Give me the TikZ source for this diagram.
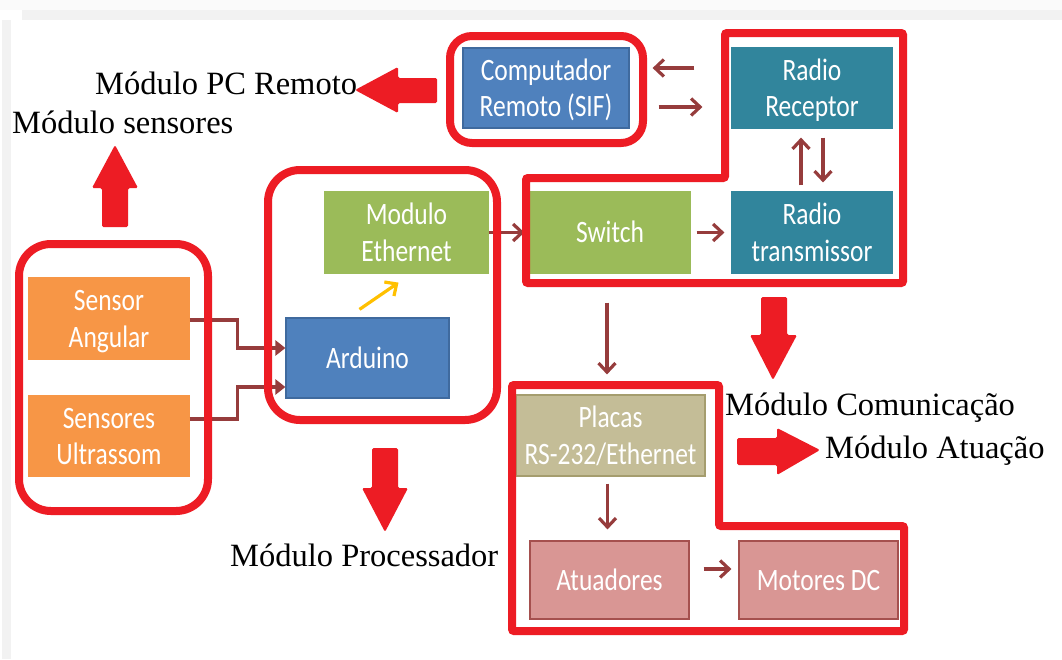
\documentclass[tikz,border=0pt]{standalone}
\usepackage{fontspec}
\setmainfont{Liberation Serif}
\newfontfamily\boxfont{Carlito}
\usetikzlibrary{arrows.meta,calc}

\definecolor{blueF}{HTML}{4F81BD}
\definecolor{blueD}{HTML}{3F6A9E}
\definecolor{tealF}{HTML}{31859C}
\definecolor{greenF}{HTML}{9BBB59}
\definecolor{orangeF}{HTML}{F79646}
\definecolor{oliveF}{HTML}{C4BD97}
\definecolor{oliveD}{HTML}{A59D6E}
\definecolor{pinkF}{HTML}{D99694}
\definecolor{pinkD}{HTML}{A5504E}
\definecolor{connred}{HTML}{963C3C}
\definecolor{alarm}{HTML}{ED1C24}
\definecolor{gold}{HTML}{FFC000}

% two-line box captions, set a little taller than wide and a touch low
\newcommand{\boxtext}[1]{\raisebox{-3pt}[\height][\depth]{\scalebox{1}[1.22]{\boxfont\fontsize{25.5}{30}\selectfont\begin{tabular}{@{}c@{}}#1\end{tabular}}}}

\tikzset{
  block/.style={draw=#1, line width=1.2pt, inner sep=0pt, text=white},
  conn/.style={draw=connred, line width=3.2pt,
    -{Straight Barb[length=9pt,width=17pt,line width=3.2pt]}},
  feed/.style={draw=connred, line width=3.2pt,
    -{Triangle[length=10pt,width=15pt]}},
  frame/.style={draw=alarm, line width=8pt},
  bigarrow/.style={fill=alarm, rounded corners=1.5pt},
  lbl/.style={font=\fontsize{32.5}{38}\selectfont, inner sep=0pt, anchor=base west, text=black}
}

\begin{document}
\begin{tikzpicture}[x=1pt, y=-1pt]
\useasboundingbox (0,0) rectangle (1062,659);
\fill[white] (0,0) rectangle (1062,659);
\fill[black!2] (0,0) rectangle (1062,10);
\fill[black!5] (22,10) rectangle (1062,20);
\fill[black!5] (2,20) rectangle (11,659);

% ---- blocks ----
\node[block=blueD, fill=blueF, minimum width=166pt, minimum height=80pt] (comp) at (546,88) {\boxtext{Computador\\Remoto (SIF)}};
\node[block=tealF, fill=tealF, minimum width=160pt, minimum height=80pt] (rrec) at (812,88) {\boxtext{Radio\\Receptor}};
\node[block=tealF, fill=tealF, minimum width=160pt, minimum height=81pt] (rtx) at (812,232.5) {\boxtext{Radio\\transmissor}};
\node[block=greenF, fill=greenF, minimum width=160pt, minimum height=81pt] (sw) at (610,232.5) {\boxtext{Switch}};
\node[block=greenF, fill=greenF, minimum width=163pt, minimum height=81pt] (eth) at (406.5,232.5) {\boxtext{Modulo\\Ethernet}};
\node[block=blueD, fill=blueF, minimum width=163pt, minimum height=80pt] (ard) at (367.5,358) {\boxtext{Arduino}};
\node[block=orangeF, fill=orangeF, minimum width=160pt, minimum height=81pt] (sa) at (109,318.5) {\boxtext{Sensor\\Angular}};
\node[block=orangeF, fill=orangeF, minimum width=160pt, minimum height=80pt] (su) at (109,436) {\boxtext{Sensores\\Ultrassom}};
\node[block=oliveD, fill=oliveF, minimum width=189pt, minimum height=81pt] (pl) at (610.5,435.5) {\boxtext{Placas\\RS-232/Ethernet}};
\node[block=pinkD, fill=pinkF, minimum width=159pt, minimum height=78pt] (at) at (609.5,580) {\boxtext{Atuadores}};
\node[block=pinkD, fill=pinkF, minimum width=159pt, minimum height=78pt] (mot) at (818.5,580) {\boxtext{Motores DC}};

% ---- connectors ----
\draw[conn] ([xshift=-37pt,yshift=20pt]rrec.west) -- ([xshift=23pt,yshift=20pt]comp.east);
\draw[conn] ([xshift=29pt,yshift=-19pt]comp.east) -- ([xshift=-29pt,yshift=-19pt]rrec.west);
\draw[conn] ([xshift=-11pt,yshift=6pt]rtx.north) -- ([xshift=-11pt,yshift=-9pt]rrec.south);
\draw[conn] ([xshift=11pt,yshift=-9pt]rrec.south) -- ([xshift=11pt,yshift=9pt]rtx.north);
\draw[conn, shorten <=6pt, shorten >=7pt] (sw.east) -- (rtx.west);
\draw[conn, shorten >=5pt] (eth.east) -- (sw.west);
\draw[conn, shorten <=29pt, shorten >=20pt] ([xshift=-3pt]sw.south) -- ([xshift=-3pt]sw.south |- pl.north);
\draw[conn, shorten <=7pt, shorten >=11pt] ([xshift=-3pt]pl.south) -- ([xshift=-3pt]pl.south |- at.north);
\draw[conn, shorten <=14pt, shorten >=7pt] ([yshift=11pt]at.east) -- ([yshift=11pt]at.east -| mot.west);
\draw[feed] ([yshift=-1.5pt]sa.east) -- ++(48pt,0) |- ([yshift=10pt]ard.west);
\draw[feed] ([yshift=17pt]su.east) -- ++(48pt,0) |- ([yshift=-29pt]ard.west);
\draw[draw=gold, line width=3.2pt, -{Straight Barb[length=9pt,width=17pt,line width=3.2pt]}]
  ([xshift=-8pt,yshift=8pt]ard.north) -- ([xshift=-8pt,yshift=-9pt]eth.south);

% ---- module outlines ----
\draw[frame, rounded corners=22pt] (450,36) rectangle (643,143);
\draw[frame, rounded corners=2pt] (725,33) -- (903,33) -- (903,283) -- (526,283) -- (526,178) -- (725,178) -- cycle;
\draw[frame, rounded corners=32pt] (268,170) rectangle (497,420);
\draw[frame, rounded corners=32pt] (19,244) rectangle (208,511);
\draw[frame, rounded corners=2pt] (512,385) -- (719,385) -- (719,526) -- (904,526) -- (904,631) -- (512,631) -- cycle;

% ---- module pointers ----
\fill[bigarrow] (355,90) -- (398,67) -- (398,78) -- (437,78) -- (437,103) -- (398,103) -- (398,113) -- cycle;
\fill[bigarrow] (115,145) -- (138,188) -- (128,188) -- (128,227) -- (102,227) -- (102,188) -- (92,188) -- cycle;
\fill[bigarrow] (385,532) -- (408,488) -- (398,488) -- (398,448) -- (372,448) -- (372,488) -- (362,488) -- cycle;
\fill[bigarrow] (773,380) -- (797,335) -- (787,335) -- (787,297) -- (761,297) -- (761,335) -- (750,335) -- cycle;
\fill[bigarrow] (820,450) -- (777,428) -- (777,438) -- (737,438) -- (737,465) -- (777,465) -- (777,475) -- cycle;

% ---- module names ----
\node[lbl] (lpc) at (95,94) {Módulo PC Remoto};
\node[lbl] (lsen) at (12,133) {Módulo sensores};
\node[lbl] (lproc) at (230,566) {Módulo Processador};
\node[lbl] (lcom) at (725,415) {Módulo Comunicação};
\node[lbl] (lact) at (825,458) {Módulo Atuação};
\end{tikzpicture}
\end{document}
